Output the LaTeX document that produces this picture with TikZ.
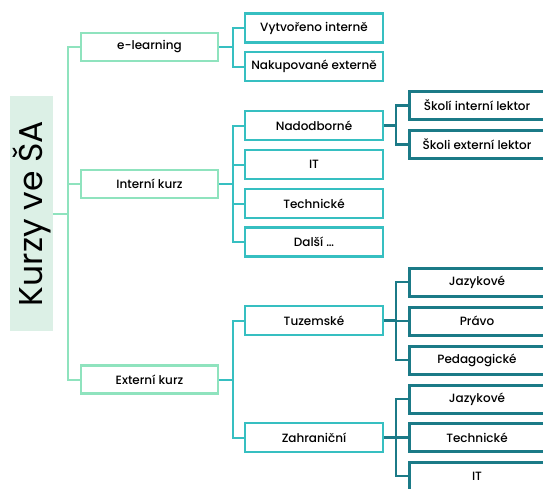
\documentclass[tikz,border=0pt]{standalone}
\usepackage{fontspec}
\setmainfont{Poppins Medium}
\newfontfamily\korenfont{Poppins}
\usepackage{xcolor}
\definecolor{mint}{HTML}{8FE3BE}
\definecolor{mintfill}{HTML}{DCF0E6}
\definecolor{tyrkys}{HTML}{36BFC1}
\definecolor{petrol}{HTML}{1B7A87}

\begin{document}
\begin{tikzpicture}[x=1pt,y=-1pt,
    koren/.style={fill=mintfill, rotate=90, minimum width=235, minimum height=43, inner sep=0pt, font=\korenfont\fontsize{33}{33}\selectfont},
    uroven1/.style={draw=mint, line width=2.6pt, fill=white, minimum width=137, minimum height=28, inner sep=0pt, font=\fontsize{12}{12}\selectfont},
    uroven2/.style={draw=tyrkys, line width=2.6pt, fill=white, minimum width=138, minimum height=29, inner sep=0pt, font=\fontsize{12}{12}\selectfont},
    uroven3/.style={draw=petrol, line width=3pt, fill=white, minimum width=136, minimum height=28, inner sep=0pt, font=\fontsize{12}{12}\selectfont},
    spoj1/.style={draw=mint, line width=2pt},
    spoj2/.style={draw=tyrkys, line width=2pt},
    spoj3/.style={draw=petrol, line width=2.2pt}]
    \useasboundingbox (0,0) rectangle (543,488);

    % koren
    \node[koren] (kurzy) at (31.5,213.5) {Kurzy ve ŠA};

    % prvni uroven
    \node[uroven1] (elearn) at (149.5,47) {e-learning};
    \node[uroven1] (intk) at (149.5,184) {Interní kurz};
    \node[uroven1] (extk) at (149.5,379.5) {Externí kurz};

    % druha uroven
    \node[uroven2] (vytv) at (314,28) {Vytvořeno interně};
    \node[uroven2] (nakup) at (314,66.5) {Nakupované externě};
    \node[uroven2] (nadod) at (314,125.5) {Nadodborné};
    \node[uroven2] (it) at (314,164.5) {IT};
    \node[uroven2] (tech) at (314,203.5) {Technické};
    \node[uroven2] (dalsi) at (314,242) {Další …};
    \node[uroven2] (tuz) at (314,320.5) {Tuzemské};
    \node[uroven2] (zahr) at (314,437.5) {Zahraniční};

    % treti uroven
    \node[uroven3] (intlek) at (477,105.5) {Školí interní lektor};
    \node[uroven3] (extlek) at (477,144.5) {Školi externí lektor};
    \node[uroven3] (tjaz) at (477,282) {Jazykové};
    \node[uroven3] (pravo) at (477,321) {Právo};
    \node[uroven3] (ped) at (477,360) {Pedagogické};
    \node[uroven3] (zjaz) at (477,399) {Jazykové};
    \node[uroven3] (ztech) at (477,437.5) {Technické};
    \node[uroven3] (zit) at (477,476) {IT};

    % spojnice
    \foreach \n in {elearn,intk,extk}
      \draw[spoj1] (kurzy.south) -- ++(15,0) |- (\n.west);
    \foreach \n in {vytv,nakup}
      \draw[spoj2] (elearn.east) -- ++(14,0) |- (\n.west);
    \foreach \n in {nadod,it,tech,dalsi}
      \draw[spoj2] (intk.east) -- ++(14,0) |- (\n.west);
    \foreach \n in {tuz,zahr}
      \draw[spoj2] (extk.east) -- ++(14,0) |- (\n.west);
    \foreach \n in {intlek,extlek}
      \draw[spoj3] (nadod.east) -- ++(12,0) |- (\n.west);
    \foreach \n in {tjaz,pravo,ped}
      \draw[spoj3] (tuz.east) -- ++(12,0) |- (\n.west);
    \foreach \n in {zjaz,ztech,zit}
      \draw[spoj3] (zahr.east) -- ++(12,0) |- (\n.west);
  \end{tikzpicture}
\end{document}
